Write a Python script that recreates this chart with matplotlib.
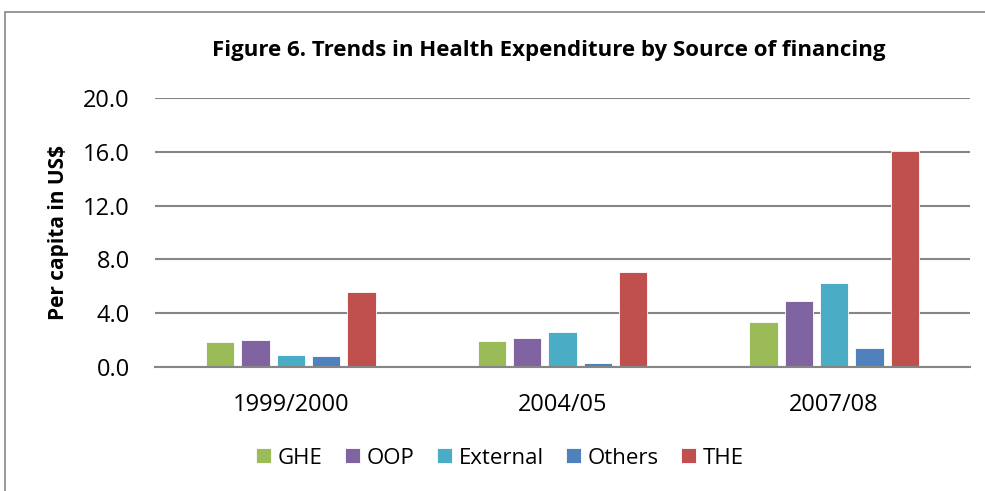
import matplotlib
matplotlib.use("Agg")
import matplotlib.pyplot as plt
import numpy as np
from matplotlib.patches import Rectangle

categories = ["1999/2000", "2004/05", "2007/08"]
series_names = ["GHE", "OOP", "External", "Others", "THE"]
ghe = [1.85, 1.95, 3.33]
oop = [2.03, 2.12, 4.89]
external = [0.89, 2.60, 6.25]
others = [0.79, 0.28, 1.44]
the = [5.58, 7.05, 16.03]
yticks = [0.0, 4.0, 8.0, 12.0, 16.0, 20.0]

colors = ["#9BBB59", "#8064A2", "#4BACC6", "#4F81BD", "#C0504D"]
series = [ghe, oop, external, others, the]

plt.rcParams['font.family'] = ['Open Sans', 'DejaVu Sans']

fig = plt.figure(figsize=(9.85, 4.91), dpi=100)
W, H = 985, 491
ax = fig.add_axes([155 / W, 1 - 367 / H, (970 - 155) / W, (367 - 98) / H])

x = np.arange(len(categories))
bw = 0.1045
step = 0.13
for i, (vals, c, name) in enumerate(zip(series, colors, series_names)):
    off = (i - 2) * step
    ax.bar(x + off, vals, width=bw, color=c, edgecolor="white", linewidth=0.6,
           label=name, zorder=3)

ax.set_xlim(-0.5, 2.5)
ax.set_ylim(0, 20)
ax.set_yticks(yticks)
ax.set_yticklabels([f"{v:.1f}" for v in yticks])
ax.set_xticks(x)
ax.set_xticklabels(categories)
ax.tick_params(axis="y", length=0, pad=18, labelsize=17)
ax.tick_params(axis="x", length=0, pad=19, labelsize=17)
ax.grid(axis="y", color="#868686", linewidth=1.5, zorder=0)
for s in ["top", "right", "left"]:
    ax.spines[s].set_visible(False)
ax.spines["bottom"].set_color("#868686")
ax.spines["bottom"].set_linewidth(1.5)
ax.spines["bottom"].set_zorder(4)

ax.set_ylabel("Per capita in US$", fontsize=15, fontweight="bold", labelpad=10)

fig.text(548.5 / W, 1 - 50 / H, "Figure 6. Trends in Health Expenditure by Source of financing",
         ha="center", va="center", fontsize=16, fontweight="bold")

handles, labels = ax.get_legend_handles_labels()
leg = fig.legend(handles, labels, loc="center", bbox_to_anchor=(500 / W, 1 - 458 / H),
                 ncol=5, frameon=False, fontsize=16, handlelength=0.68, handleheight=0.68,
                 handletextpad=0.3, columnspacing=1.0, borderpad=0, borderaxespad=0)

fig.patches.append(Rectangle((5 / W, -0.1), 1.2, (1 - 12 / H) + 0.1, transform=fig.transFigure,
                             fill=False, edgecolor="#868686", linewidth=1.2))

fig.savefig("out.png", dpi=100)
